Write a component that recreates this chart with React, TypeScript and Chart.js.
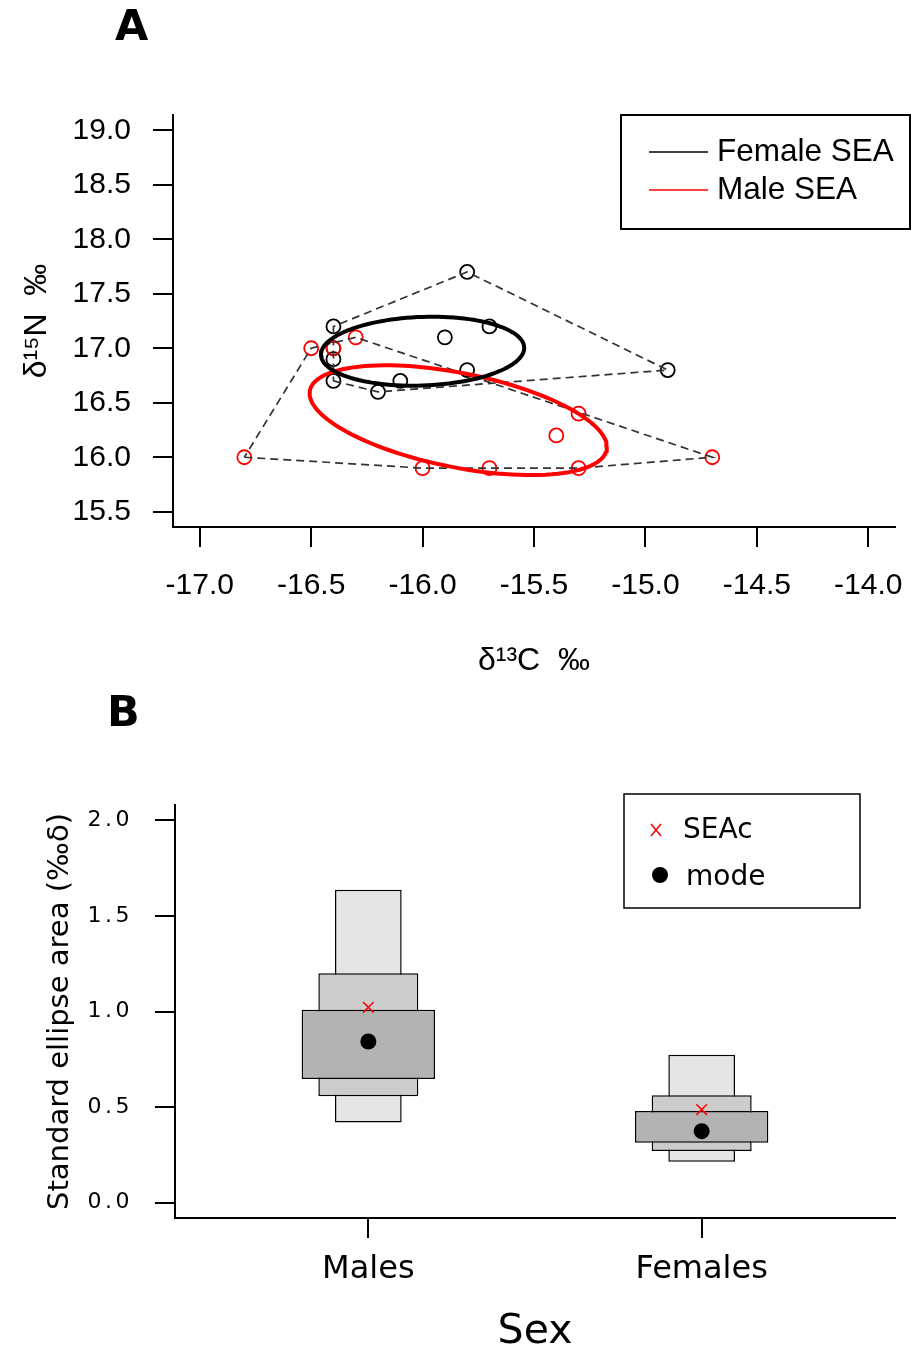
import React, { useEffect, useRef } from 'react';
import { Chart, registerables } from 'chart.js';

Chart.register(...registerables);

// ---------------- Panel A data (δ13C, δ15N) ----------------
const femaleD13C = [-16.4, -15.8, -14.9, -15.7, -15.9, -16.4, -16.4, -16.2, -16.1, -15.8, -16.4];
const femaleD15N = [17.2, 17.7, 16.8, 17.2, 17.1, 16.9, 16.7, 16.6, 16.7, 16.8, 17.0];
const maleD13C = [-16.8, -16.5, -16.4, -16.3, -14.7, -15.3, -15.4, -16.0, -15.7, -15.3];
const maleD15N = [16.0, 17.0, 17.0, 17.1, 16.0, 16.4, 16.2, 15.9, 15.9, 15.9];
const xTicksA = [-17.0, -16.5, -16.0, -15.5, -15.0, -14.5, -14.0];
const yTicksA = [15.5, 16.0, 16.5, 17.0, 17.5, 18.0, 18.5, 19.0];
const xRangeA = [-17.12, -13.88];
const yRangeA = [15.36, 19.14];
const legendLabelsA = ['Female SEA', 'Male SEA'];
const colorsA = ['#000000', '#ff0000'];

// ---------------- Panel B data (standard ellipse area) ----------------
const groups = ['Males', 'Females'];
const groupX = [1, 2];
const cred95Low = [0.419, 0.214];
const cred95High = [1.637, 0.774];
const cred75Low = [0.557, 0.271];
const cred75High = [1.2, 0.562];
const cred50Low = [0.647, 0.313];
const cred50High = [1.009, 0.48];
const seacValues = [1.022, 0.487];
const modeValues = [0.843, 0.374];
const yTicksB = [0.0, 0.5, 1.0, 1.5, 2.0];
const xRangeB = [0.42, 2.58];
const yRangeB = [-0.08, 2.08];
const legendLabelsB = ['SEAc', 'mode'];

const SANS = "'Liberation Sans', Arial, Helvetica, sans-serif";
const DEJAVU = "'DejaVu Sans', 'Noto Sans', sans-serif";
const ELLIPSE_STEPS = 120;

type P = { x: number; y: number };

function toPoints(xs: number[], ys: number[]): P[] {
  return xs.map((x, i) => ({ x, y: ys[i] }));
}

function mean(a: number[]) {
  return a.reduce((s, v) => s + v, 0) / a.length;
}

// Standard ellipse (1 SD) from the sample covariance of the data
function standardEllipse(xs: number[], ys: number[]): P[] {
  const n = xs.length;
  const mx = mean(xs);
  const my = mean(ys);
  let sxx = 0, syy = 0, sxy = 0;
  for (let i = 0; i < n; i++) {
    const dx = xs[i] - mx;
    const dy = ys[i] - my;
    sxx += dx * dx;
    syy += dy * dy;
    sxy += dx * dy;
  }
  sxx /= n - 1;
  syy /= n - 1;
  sxy /= n - 1;
  const l11 = Math.sqrt(sxx);
  const l21 = sxy / l11;
  const l22 = Math.sqrt(Math.max(syy - l21 * l21, 0));
  const out: P[] = [];
  for (let k = 0; k <= ELLIPSE_STEPS; k++) {
    const t = (2 * Math.PI * k) / ELLIPSE_STEPS;
    out.push({ x: mx + l11 * Math.cos(t), y: my + l21 * Math.cos(t) + l22 * Math.sin(t) });
  }
  return out;
}

// Convex hull (monotone chain), closed
function convexHull(xs: number[], ys: number[]): P[] {
  const pts = toPoints(xs, ys).sort((a, b) => a.x - b.x || a.y - b.y);
  const cross = (o: P, a: P, b: P) => (a.x - o.x) * (b.y - o.y) - (a.y - o.y) * (b.x - o.x);
  const lower: P[] = [];
  for (const p of pts) {
    while (lower.length >= 2 && cross(lower[lower.length - 2], lower[lower.length - 1], p) <= 0) lower.pop();
    lower.push(p);
  }
  const upper: P[] = [];
  for (let i = pts.length - 1; i >= 0; i--) {
    const p = pts[i];
    while (upper.length >= 2 && cross(upper[upper.length - 2], upper[upper.length - 1], p) <= 0) upper.pop();
    upper.push(p);
  }
  const hull = lower.slice(0, -1).concat(upper.slice(0, -1));
  hull.push(hull[0]);
  return hull;
}

const panelAPlugin = {
  id: 'panelADecor',
  afterDraw(chart: any) {
    const ctx = chart.ctx as CanvasRenderingContext2D;
    ctx.save();
    ctx.fillStyle = '#000';
    ctx.textAlign = 'left';
    ctx.textBaseline = 'alphabetic';
    ctx.font = `bold 43px ${DEJAVU}`;
    ctx.fillText('A', 115, 40);

    // legend box
    ctx.lineWidth = 2;
    ctx.strokeStyle = '#000';
    ctx.strokeRect(621, 115, 289, 114);
    const rows = [152, 190];
    ctx.font = `31.5px ${SANS}`;
    ctx.textBaseline = 'middle';
    legendLabelsA.forEach((lab, i) => {
      ctx.strokeStyle = colorsA[i];
      ctx.lineWidth = 1.5;
      ctx.beginPath();
      ctx.moveTo(649, rows[i]);
      ctx.lineTo(708, rows[i]);
      ctx.stroke();
      ctx.fillStyle = '#000';
      ctx.fillText(lab, 717, rows[i]);
    });
    ctx.restore();
  },
};

const panelBPlugin = {
  id: 'panelBDecor',
  afterDatasetsDraw(chart: any) {
    (chart.ctx as any).letterSpacing = '3.5px';
  },
  afterDraw(chart: any) {
    const ctx = chart.ctx as CanvasRenderingContext2D;
    (ctx as any).letterSpacing = '0px';
    ctx.save();
    ctx.fillStyle = '#000';
    ctx.textAlign = 'left';
    ctx.textBaseline = 'alphabetic';
    ctx.font = `bold 43px ${DEJAVU}`;
    ctx.fillText('B', 107, 36);

    ctx.lineWidth = 1.5;
    ctx.strokeStyle = '#000';
    ctx.strokeRect(624, 104, 236, 114);

    // SEAc marker
    ctx.strokeStyle = '#ff0000';
    ctx.lineWidth = 1.5;
    ctx.beginPath();
    ctx.moveTo(651, 134);
    ctx.lineTo(661, 146);
    ctx.moveTo(661, 134);
    ctx.lineTo(651, 146);
    ctx.stroke();
    // mode marker
    ctx.fillStyle = '#000';
    ctx.beginPath();
    ctx.arc(660, 185, 8, 0, Math.PI * 2);
    ctx.fill();

    ctx.font = `28px ${DEJAVU}`;
    ctx.textBaseline = 'middle';
    ctx.fillText(legendLabelsB[0], 683, 141);
    ctx.fillText(legendLabelsB[1], 686, 188);
    ctx.restore();
  },
};

function axisCommon(font: any, tickPad: number) {
  return {
    grid: { display: true, drawOnChartArea: false, drawTicks: true, tickLength: 20, color: '#000', lineWidth: 2 },
    border: { display: true, color: '#000', width: 2 },
    ticks: { color: '#000', font, padding: tickPad, autoSkip: false, maxRotation: 0 },
  };
}

export default function App() {
  const refA = useRef<HTMLCanvasElement>(null);
  const refB = useRef<HTMLCanvasElement>(null);

  useEffect(() => {
    document.body.style.margin = '0';
    const fontA = { family: SANS, size: 30 };
    const axA = axisCommon(fontA, 21);
    const axAy = axisCommon(fontA, 22);

    const ellipseSet = (label: string, xs: number[], ys: number[], color: string) => ({
      label,
      data: standardEllipse(xs, ys),
      showLine: true,
      borderColor: color,
      borderWidth: 4,
      borderCapStyle: 'round',
      borderJoinStyle: 'round',
      pointRadius: 0,
      fill: false,
      order: 0,
    });
    const hullSet = (label: string, xs: number[], ys: number[]) => ({
      label,
      data: convexHull(xs, ys),
      showLine: true,
      borderColor: '#333333',
      borderWidth: 1.7,
      borderDash: [8, 5],
      pointRadius: 0,
      fill: false,
      order: 1,
    });
    const pointSet = (label: string, xs: number[], ys: number[], color: string, order: number) => ({
      label,
      data: toPoints(xs, ys),
      pointStyle: 'circle',
      pointRadius: 7,
      borderColor: color,
      backgroundColor: 'rgba(0,0,0,0)',
      borderWidth: 1.8,
      order,
    });

    const chartA = new Chart(refA.current as HTMLCanvasElement, {
      type: 'scatter',
      data: {
        datasets: [
          ellipseSet(legendLabelsA[0], femaleD13C, femaleD15N, colorsA[0]),
          ellipseSet(legendLabelsA[1], maleD13C, maleD15N, colorsA[1]),
          hullSet('Female hull', femaleD13C, femaleD15N),
          hullSet('Male hull', maleD13C, maleD15N),
          pointSet('Females', femaleD13C, femaleD15N, colorsA[0], 3),
          pointSet('Males', maleD13C, maleD15N, colorsA[1], 2),
        ],
      },
      options: {
        responsive: false,
        animation: false,
        devicePixelRatio: 1,
        events: [],
        layout: { padding: { left: 0, top: 115, right: 16, bottom: 0 } },
        plugins: { legend: { display: false }, tooltip: { enabled: false } },
        scales: {
          x: {
            type: 'linear',
            min: xRangeA[0],
            max: xRangeA[1],
            afterBuildTicks: (s: any) => {
              s.ticks = xTicksA.map((v) => ({ value: v }));
            },
            afterFit: (s: any) => {
              s.height = 163;
              s.paddingLeft = 0;
              s.paddingRight = 0;
            },
            ...axA,
            ticks: { ...axA.ticks, callback: (v: any) => Number(v).toFixed(1) },
            title: {
              display: true,
              text: 'δ¹³C  ‰',
              color: '#000',
              font: { family: SANS, size: 32 },
              padding: { top: 0, bottom: 10 },
            },
          },
          y: {
            type: 'linear',
            min: yRangeA[0],
            max: yRangeA[1],
            afterBuildTicks: (s: any) => {
              s.ticks = yTicksA.map((v) => ({ value: v }));
            },
            afterFit: (s: any) => {
              s.width = 173;
              s.paddingTop = 0;
              s.paddingBottom = 0;
            },
            ...axAy,
            ticks: { ...axAy.ticks, callback: (v: any) => Number(v).toFixed(1) },
            title: {
              display: true,
              text: 'δ¹⁵N  ‰',
              color: '#000',
              font: { family: SANS, size: 32 },
              padding: { top: 18, bottom: 0 },
            },
          },
        },
      },
      plugins: [panelAPlugin],
    } as any);

    const axBx = axisCommon({ family: DEJAVU, size: 32 }, 12);
    const axBy = axisCommon({ family: DEJAVU, size: 22 }, 22);

    const barSet = (label: string, lows: number[], highs: number[], color: string, pct: number, order: number) => ({
      type: 'bar',
      label,
      data: groupX.map((x, i) => ({ x, y: [lows[i], highs[i]] })),
      backgroundColor: color,
      borderColor: '#000',
      borderWidth: 1.5,
      borderSkipped: false,
      grouped: false,
      categoryPercentage: 1,
      barPercentage: pct,
      order,
    });

    const chartB = new Chart(refB.current as HTMLCanvasElement, {
      type: 'bar',
      data: {
        datasets: [
          {
            type: 'scatter',
            label: legendLabelsB[0],
            data: toPoints(groupX, seacValues),
            pointStyle: 'crossRot',
            pointRadius: 7.5,
            borderColor: '#ff0000',
            backgroundColor: '#ff0000',
            borderWidth: 1.5,
            order: 0,
          },
          {
            type: 'scatter',
            label: legendLabelsB[1],
            data: toPoints(groupX, modeValues),
            pointStyle: 'circle',
            pointRadius: 8,
            borderColor: '#000',
            backgroundColor: '#000',
            borderWidth: 0,
            order: 0,
          },
          barSet('50%', cred50Low, cred50High, '#b3b3b3', 0.4, 1),
          barSet('75%', cred75Low, cred75High, '#cccccc', 0.3, 2),
          barSet('95%', cred95Low, cred95High, '#e5e5e5', 0.2, 3),
        ],
      },
      options: {
        responsive: false,
        animation: false,
        devicePixelRatio: 1,
        events: [],
        layout: { padding: { left: 0, top: 115, right: 16, bottom: 0 } },
        plugins: { legend: { display: false }, tooltip: { enabled: false } },
        scales: {
          x: {
            type: 'linear',
            min: xRangeB[0],
            max: xRangeB[1],
            offset: false,
            afterBuildTicks: (s: any) => {
              s.ticks = groupX.map((v) => ({ value: v }));
            },
            afterFit: (s: any) => {
              s.height = 136;
              s.paddingLeft = 0;
              s.paddingRight = 0;
            },
            ...axBx,
            grid: { ...axBx.grid, offset: false },
            ticks: {
              ...axBx.ticks,
              callback: (v: any) => groups[groupX.indexOf(Number(v))] ?? '',
            },
            title: {
              display: true,
              text: 'Sex',
              color: '#000',
              font: { family: DEJAVU, size: 41, lineHeight: 1 },
              padding: { top: 0, bottom: 1 },
            },
          },
          y: {
            type: 'linear',
            min: yRangeB[0],
            max: yRangeB[1],
            afterBuildTicks: (s: any) => {
              s.ticks = yTicksB.map((v) => ({ value: v }));
            },
            afterFit: (s: any) => {
              s.width = 175;
              s.paddingTop = 0;
              s.paddingBottom = 0;
            },
            ...axBy,
            ticks: { ...axBy.ticks, z: 1, callback: (v: any) => Number(v).toFixed(1) },
            title: {
              display: true,
              text: 'Standard ellipse area (‰δ)',
              color: '#000',
              font: { family: DEJAVU, size: 29 },
              padding: { top: 42.6, bottom: 0 },
            },
          },
        },
      },
      plugins: [panelBPlugin],
    } as any);

    return () => {
      chartA.destroy();
      chartB.destroy();
    };
  }, []);

  return (
    <div style={{ width: 911, height: 1354, position: 'relative', background: '#fff' }}>
      <canvas ref={refA} width={911} height={690} style={{ display: 'block', width: 911, height: 690 }} />
      <canvas ref={refB} width={911} height={664} style={{ display: 'block', width: 911, height: 664 }} />
    </div>
  );
}
